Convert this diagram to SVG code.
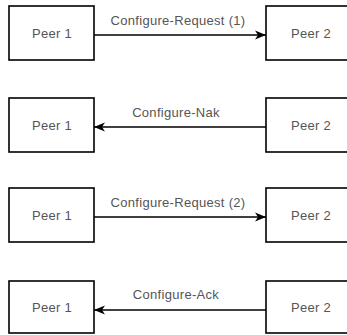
<svg xmlns="http://www.w3.org/2000/svg" width="347" height="335" viewBox="0 0 347 335">
<defs>
<style>
.box{fill:#fff;stroke:#000;stroke-width:1.6}
.t{font-family:"Liberation Sans",Arial,sans-serif;font-size:13px;fill:#555;text-anchor:middle;letter-spacing:0.3px}
.c{stroke:#000;stroke-width:1.6;fill:none}
</style>
<marker id="ah" viewBox="0 0 11 10" refX="11" refY="5" markerWidth="11" markerHeight="10" markerUnits="userSpaceOnUse" orient="auto">
<path d="M0,0.5 L11,5 L0,9.5 L3,5 Z" fill="#000"/>
</marker>
</defs>
<g id="r1p1"><rect class="box" x="9" y="6" width="85" height="54"/><text class="t" x="52" y="38">Peer 1</text></g>
<g id="r1p2"><rect class="box" x="266" y="6" width="90" height="54"/><text class="t" x="311" y="38">Peer 2</text></g>
<g id="r2p1"><rect class="box" x="9" y="98" width="85" height="54"/><text class="t" x="52" y="130">Peer 1</text></g>
<g id="r2p2"><rect class="box" x="266" y="98" width="90" height="54"/><text class="t" x="311" y="130">Peer 2</text></g>
<g id="r3p1"><rect class="box" x="9" y="188" width="85" height="54"/><text class="t" x="52" y="220">Peer 1</text></g>
<g id="r3p2"><rect class="box" x="266" y="188" width="90" height="54"/><text class="t" x="311" y="220">Peer 2</text></g>
<g id="r4p1"><rect class="box" x="9" y="281" width="85" height="52"/><text class="t" x="52" y="312">Peer 1</text></g>
<g id="r4p2"><rect class="box" x="266" y="281" width="90" height="52"/><text class="t" x="311" y="312">Peer 2</text></g>
<g id="connectors">
<line class="c" x1="94" y1="35" x2="266" y2="35" marker-end="url(#ah)"/>
<text class="t" x="178" y="25">Configure-Request (1)</text>
<line class="c" x1="266" y1="127" x2="94" y2="127" marker-end="url(#ah)"/>
<text class="t" x="176" y="117">Configure-Nak</text>
<line class="c" x1="94" y1="217" x2="266" y2="217" marker-end="url(#ah)"/>
<text class="t" x="178" y="207">Configure-Request (2)</text>
<line class="c" x1="266" y1="310" x2="94" y2="310" marker-end="url(#ah)"/>
<text class="t" x="176" y="299">Configure-Ack</text>
</g>
</svg>
